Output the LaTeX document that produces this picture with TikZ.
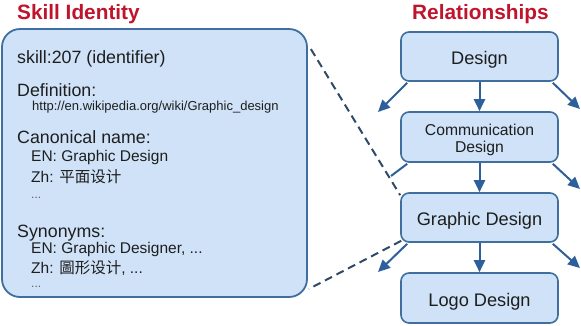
\documentclass[tikz,border=0pt]{standalone}
\usepackage{fontspec}
\setmainfont{Liberation Sans}
\newfontfamily\cjk{Noto Sans CJK SC}
\usetikzlibrary{arrows.meta}
\definecolor{boxfill}{HTML}{CFE2F8}
\definecolor{boxline}{HTML}{3F6E9F}
\definecolor{arrowc}{HTML}{2D5F9B}
\definecolor{titlered}{HTML}{C0142C}
\definecolor{txt}{HTML}{1E1E1E}
\definecolor{linkc}{HTML}{2F4A66}
\begin{document}
\begin{tikzpicture}[x=1pt,y=-1pt,
  title/.style={font=\fontsize{20.8}{24}\selectfont\bfseries, text=titlered, inner sep=0, anchor=base west},
  head/.style={font=\fontsize{17.8}{20}\selectfont, text=txt, inner sep=0, anchor=base west},
  item/.style={font=\fontsize{15.5}{18}\selectfont, text=txt, inner sep=0, anchor=base west},
  urltxt/.style={font=\fontsize{13}{15}\selectfont, text=txt, inner sep=0, anchor=base west},
  dots/.style={font=\fontsize{12}{14}\selectfont, text=txt!70, inner sep=0, anchor=base west},
  bigbox/.style={draw=boxline, fill=boxfill, line width=1.8pt, rounded corners=18pt, inner sep=0},
  relbox/.style={draw=boxline, fill=boxfill, line width=1.6pt, rounded corners=8pt, minimum width=157pt, minimum height=49pt, inner sep=0, text=txt, font=\fontsize{18.2}{20}\selectfont, align=center},
  oneline/.style={text height=16.6pt, text depth=0pt},
  rel/.style={draw=arrowc, line width=2pt, -{Triangle[length=12pt,width=11pt]}},
  relplain/.style={draw=arrowc, line width=2pt},
  link/.style={draw=linkc, line width=2pt, dash pattern=on 8pt off 5pt}
]
\useasboundingbox (0,0) rectangle (581,325);

% titles
\node[title] (t1) at (17,19) {Skill Identity};
\node[title] (t2) at (412,19) {Relationships};

% big box
\node[bigbox, minimum width=305pt, minimum height=268pt] (big) at (154.5,163) {};

\node[head] (l1) at (17,63) {skill:207 (identifier)};
\node[head] (l2) at (17,96) {Definition:};
\node[urltxt] (l3) at (32,110) {http://en.wikipedia.org/wiki/Graphic\_design};
\node[head] (l4) at (17,143) {Canonical name:};
\node[item] (l5) at (31,161) {EN: Graphic Design};
\node[item] (l6) at (31,182) {Zh: {\cjk 平面设计}};
\node[dots] (l7) at (31,198) {...};
\node[head] (l8) at (17,237) {Synonyms:};
\node[item] (l9) at (31,253) {EN: Graphic Designer, ...};
\node[item] (l10) at (31,273) {Zh: {\cjk 圖形设计}, ...};
\node[dots] (l11) at (31,287) {...};

% relationship boxes
\node[relbox, oneline] (des) at (479.5,56.5) {Design};
\node[relbox, minimum height=50pt, font=\fontsize{15.7}{17}\selectfont] (com) at (479.5,137) {\rule{0pt}{17.5pt}Communication\\Design};
\node[relbox, oneline] (gd) at (479.5,217.5) {Graphic Design};
\node[relbox, oneline, minimum height=50pt] (logo) at (479.5,298) {Logo Design};

% dashed links
\draw[link] ([shift={(3,21)}]big.north east) -- ([shift={(0,3)}]gd.north west);
\draw[link] ([shift={(1,-2)}]gd.south west) -- ([shift={(1,-9)}]big.south east);

% free ends
\coordinate (d1) at (378,112);
\coordinate (d2) at (580,109);
\coordinate (c1) at (391,176);
\coordinate (c2) at (580,189);
\coordinate (g1) at (378,272);
\coordinate (g2) at (580,268);

% arrows
\draw[rel] ([shift={(7,1)}]des.south west) -- (d1);
\draw[rel] (des.south) -- (com.north);
\draw[rel] ([shift={(-6,1)}]des.south east) -- (d2);
\draw[relplain] ([shift={(7,1)}]com.south west) -- (c1);
\draw[rel] (com.south) -- (gd.north);
\draw[rel] ([shift={(-6,1)}]com.south east) -- (c2);
\draw[rel] ([shift={(7,1)}]gd.south west) -- (g1);
\draw[rel] (gd.south) -- (logo.north);
\draw[rel] ([shift={(-6,1)}]gd.south east) -- (g2);
\end{tikzpicture}
\end{document}
